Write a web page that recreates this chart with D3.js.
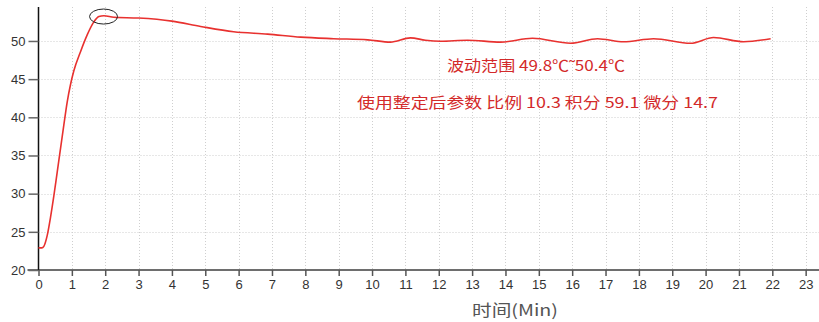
<!DOCTYPE html>
<html>
<head>
<meta charset="utf-8">
<script src="https://cdn.jsdelivr.net/npm/d3@7/dist/d3.min.js"></script>
<style>
  html, body { margin: 0; padding: 0; background: #fff; }
  svg { display: block; }
</style>
</head>
<body>
<svg id="chart" width="819" height="322"></svg>
<script>
// Temperature response of the PID loop after tuning
const timeMin = [0, 0.1, 0.16, 0.26, 0.36, 0.46, 0.56, 0.66, 0.76, 0.86, 0.96, 1.06, 1.26, 1.46, 1.66, 1.81, 1.96, 2.26, 3, 4, 4.86, 5.85, 6.87, 7.86, 8.85, 9.87, 10.55, 11.15, 11.6, 12.05, 12.86, 13.85, 14.81, 15.95, 16.76, 17.54, 18.44, 19.55, 20.24, 21.14, 21.95];
const tempC   = [22.9, 22.9, 23.1, 24.5, 26.9, 29.7, 32.8, 35.9, 39.0, 42.0, 44.3, 46.1, 48.6, 50.8, 52.5, 53.2, 53.3, 53.1, 53.0, 52.6, 51.9, 51.2, 50.9, 50.5, 50.3, 50.15, 49.85, 50.4, 50.1, 49.97, 50.1, 49.85, 50.35, 49.7, 50.3, 49.9, 50.3, 49.7, 50.45, 49.9, 50.3];

const xTicks = d3.range(0, 24);
const yTicks = [20, 25, 30, 35, 40, 45, 50];

const rangeText = "波动范围 49.8℃˜50.4℃";
const paramText = "使用整定后参数 比例 10.3 积分 59.1 微分 14.7";
const xTitle = "时间(Min)";

// overshoot peak marker (time, temperature)
const peak = { t: 1.95, v: 53.2 };

const svg = d3.select("#chart");
const x0 = 38.5, x1 = 819, yTop = 7, yBot = 270;

const x = d3.scaleLinear().domain([0, 23.4]).range([x0, x1]);
const y = d3.scaleLinear().domain([20, 54.45]).range([yBot, yTop]);

// grid
const grid = svg.append("g").attr("stroke", "#cfcfcf").attr("stroke-dasharray", "1,2").attr("stroke-width", 1);
grid.selectAll("line.v").data(xTicks.filter(d => d > 0)).join("line")
  .attr("x1", d => Math.round(x(d)) + 0.5).attr("x2", d => Math.round(x(d)) + 0.5)
  .attr("y1", yTop).attr("y2", yBot);
grid.selectAll("line.h").data(yTicks.filter(d => d > 20)).join("line")
  .attr("x1", x0).attr("x2", x1)
  .attr("y1", d => Math.round(y(d)) + 0.5).attr("y2", d => Math.round(y(d)) + 0.5);

// x axis
const xAxis = d3.axisBottom(x).tickValues(xTicks).tickSize(6).tickPadding(4).tickSizeOuter(0);
const gx = svg.append("g").attr("transform", `translate(0,${yBot})`).call(xAxis);
gx.select(".domain").attr("stroke", "#6e6e6e").attr("stroke-width", 2).attr("d", `M${x0 - 11},0H${x1}`);
gx.selectAll(".tick line").attr("stroke", "#555").attr("stroke-width", 1.5);
gx.selectAll(".tick text").attr("fill", "#333").attr("font-family", "Liberation Sans, Arial, sans-serif").attr("font-size", 13);

// y axis
const yAxis = d3.axisLeft(y).tickValues(yTicks).tickSize(10).tickPadding(3).tickSizeOuter(0);
const gy = svg.append("g").attr("transform", `translate(${x0},0)`).call(yAxis);
gy.select(".domain").attr("stroke", "#111").attr("stroke-width", 1.5).attr("d", `M0,${yTop}V${yBot}`);
gy.selectAll(".tick line").attr("stroke", "#666").attr("stroke-width", 1.5);
gy.selectAll(".tick text").attr("fill", "#333").attr("font-family", "Liberation Sans, Arial, sans-serif").attr("font-size", 13);

// temperature curve
const pts = timeMin.map((t, i) => [t, tempC[i]]);
const line = d3.line().x(d => x(d[0])).y(d => y(d[1])).curve(d3.curveMonotoneX);
svg.append("path").datum(pts)
  .attr("fill", "none").attr("stroke", "#e8312f").attr("stroke-width", 1.6)
  .attr("d", line);

// peak marker
svg.append("ellipse")
  .attr("cx", x(peak.t)).attr("cy", y(peak.v))
  .attr("rx", 14).attr("ry", 7.5)
  .attr("fill", "none").attr("stroke", "#222").attr("stroke-width", 1);

// annotations
const cjk = "'Noto Sans CJK SC', sans-serif";
svg.append("text").attr("x", 447).attr("y", 71)
  .attr("textLength", 178).attr("lengthAdjust", "spacingAndGlyphs")
  .attr("fill", "#d32a2a").attr("font-family", cjk).attr("font-size", 15)
  .text(rangeText);
svg.append("text").attr("x", 357).attr("y", 108)
  .attr("textLength", 361).attr("lengthAdjust", "spacingAndGlyphs")
  .attr("fill", "#d32a2a").attr("font-family", cjk).attr("font-size", 15)
  .text(paramText);

svg.append("text").attr("x", 472).attr("y", 316)
  .attr("textLength", 86).attr("lengthAdjust", "spacingAndGlyphs")
  .attr("fill", "#555").attr("font-family", cjk).attr("font-size", 16)
  .text(xTitle);
</script>
</body>
</html>
